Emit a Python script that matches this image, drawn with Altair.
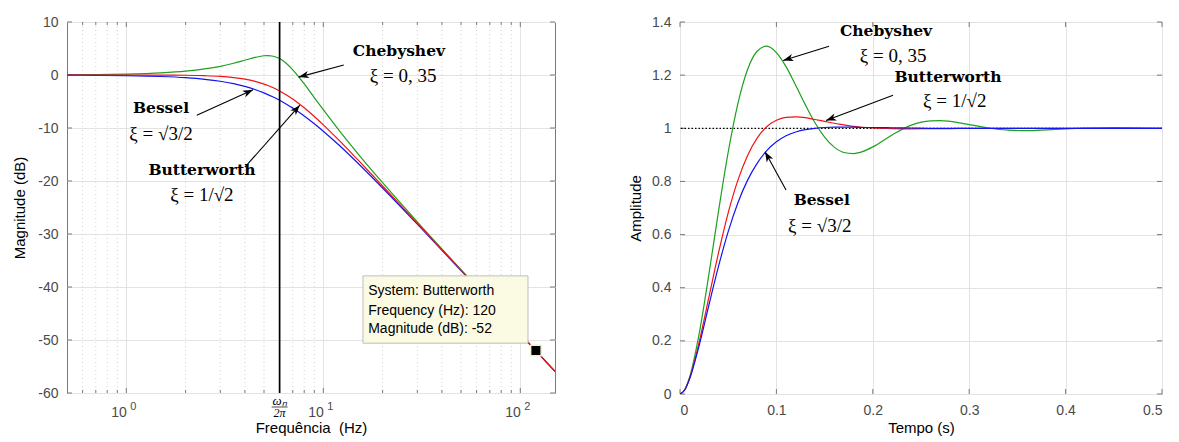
import math
import altair as alt
import pandas as pd

# ---------------- left panel: Bode magnitude ----------------
freq_hz = [0.5, 0.7, 1, 1.5, 2, 2.5, 3, 3.5, 4, 4.5, 5, 5.2, 5.5, 6, 6.5, 7, 7.5, 8, 9, 10,
           12, 15, 20, 30, 50, 80, 120, 150]
mag_cheb = [0.05, 0.09, 0.18, 0.41, 0.73, 1.15, 1.64, 2.21, 2.79, 3.31, 3.63, 3.66, 3.59, 3.10,
            2.18, 0.98, -0.34, -1.69, -4.26, -6.55, -10.40, -14.86, -20.32, -27.70, -36.74,
            -44.96, -52.03, -55.91]
mag_butter = [0.00, 0.00, 0.00, -0.02, -0.05, -0.13, -0.26, -0.48, -0.78, -1.19, -1.71, -1.94,
              -2.32, -3.01, -3.76, -4.55, -5.37, -6.19, -7.83, -9.40, -12.30, -16.03, -20.95,
              -27.97, -36.83, -45.00, -52.04, -55.92]
mag_bessel = [-0.03, -0.06, -0.12, -0.28, -0.51, -0.81, -1.18, -1.63, -2.15, -2.74, -3.38, -3.65,
              -4.06, -4.77, -5.50, -6.25, -6.99, -7.74, -9.20, -10.61, -13.22, -16.66, -21.32,
              -28.14, -36.90, -45.02, -52.05, -55.92]
wn_over_2pi_hz = [6.0]
mag_ticks = [-60, -50, -40, -30, -20, -10, 0, 10]
freq_major = [1, 10, 100]
freq_major_exp = ["0", "1", "2"]
freq_minor = [0.6, 0.7, 0.8, 0.9, 2, 3, 4, 5, 6, 7, 8, 9, 20, 30, 40, 50, 60, 70, 80, 90]

datatip_point_f = [120]
datatip_point_db = [-52]
datatip_lines = ["System: Butterworth", "Frequency (Hz): 120", "Magnitude (dB): -52"]
datatip_box_f = [15.9, 109.4]
datatip_box_db = [-37.9, -50.6]
datatip_text_f = [16.9, 16.9, 16.9]
datatip_text_db = [-40.7, -44.5, -48.0]

left_names = ["Chebyshev", "Bessel", "Butterworth"]
left_name_f = [24.2, 1.5, 2.42]
left_name_db = [4.6, -6.2, -17.9]
left_xi = ["ξ = 0, 35", "ξ = √3/2", "ξ = 1/√2"]
left_xi_f = [25.4, 1.5, 2.42]
left_xi_db = [-0.1, -11.1, -22.6]
left_tail_f = [12.7, 2.28, 4.0]
left_tail_db = [1.9, -7.6, -17.4]
left_head_f = [7.5, 4.4, 7.6]
left_head_db = [-0.4, -2.8, -5.7]

# ---------------- right panel: step response ----------------
time_s = [0, 0.005, 0.01, 0.02, 0.03, 0.04, 0.05, 0.06, 0.07, 0.08, 0.09, 0.10, 0.11, 0.12,
          0.13, 0.14, 0.15, 0.16, 0.17, 0.18, 0.19, 0.20, 0.22, 0.24, 0.26, 0.27, 0.28, 0.30,
          0.32, 0.34, 0.36, 0.38, 0.40, 0.42, 0.45, 0.50]
step_cheb = [0, 0.017, 0.064, 0.229, 0.451, 0.689, 0.910, 1.092, 1.220, 1.290, 1.309, 1.285,
             1.232, 1.162, 1.089, 1.021, 0.967, 0.929, 0.909, 0.905, 0.913, 0.930, 0.975,
             1.012, 1.028, 1.029, 1.026, 1.014, 1.001, 0.993, 0.991, 0.994, 0.998, 1.001,
             1.003, 1.000]
step_butter = [0, 0.016, 0.059, 0.197, 0.365, 0.532, 0.682, 0.804, 0.897, 0.963, 1.006, 1.030,
               1.041, 1.043, 1.040, 1.033, 1.026, 1.019, 1.013, 1.007, 1.004, 1.001, 0.999,
               0.998, 0.999, 0.999, 0.999, 1.000, 1.000, 1.000, 1.000, 1.000, 1.000, 1.000,
               1.000, 1.000]
step_bessel = [0, 0.016, 0.057, 0.184, 0.335, 0.481, 0.611, 0.719, 0.804, 0.868, 0.916, 0.949,
               0.972, 0.986, 0.995, 1.000, 1.003, 1.004, 1.004, 1.004, 1.003, 1.003, 1.002,
               1.001, 1.000, 1.000, 1.000, 1.000, 1.000, 1.000, 1.000, 1.000, 1.000, 1.000,
               1.000, 1.000]
amp_ticks = [0, 0.2, 0.4, 0.6, 0.8, 1.0, 1.2, 1.4]
time_ticks = [0, 0.1, 0.2, 0.3, 0.4, 0.5]
final_value = [1.0]

right_names = ["Chebyshev", "Butterworth", "Bessel"]
right_name_t = [0.2137, 0.278, 0.147]
right_name_a = [1.366, 1.192, 0.730]
right_xi = ["ξ = 0, 35", "ξ = 1/√2", "ξ = √3/2"]
right_xi_t = [0.221, 0.285, 0.145]
right_xi_a = [1.271, 1.101, 0.632]
right_tail_t = [0.1546, 0.221, 0.110]
right_tail_a = [1.309, 1.124, 0.768]
right_head_t = [0.107, 0.1515, 0.0882]
right_head_a = [1.255, 1.029, 0.912]

# ---------------- styles ----------------
W_L, H_L = 488, 371
W_R, H_R = 482, 372
FRAME = "#7a7a7a"
GRID = "#e3e3e3"
MINOR = "#cfcfcf"
GREEN = "#1f9f1f"
RED = "#f01414"
BLUE = "#1414f0"
LABEL = "#4a4a4a"
SANS = "Liberation Sans"
SERIF = "DejaVu Serif"
MATHF = "Liberation Serif"
ARROW = "M0,0L-1,-0.36L-0.72,0L-1,0.36Z"
LOGMIN, LOGMAX = math.log10(0.5), math.log10(150)


def ang(x0, y0, x1, y1):
    return math.degrees(math.atan2(y1 - y0, x1 - x0)) % 360


def pxl(f):
    return W_L * (math.log10(f) - LOGMIN) / (LOGMAX - LOGMIN)


def pyl(d):
    return H_L * (10 - d) / 70


def pxr(t):
    return W_R * t / 0.5


def pyr(a):
    return H_R * (1.4 - a) / 1.4


# ---------------- left chart ----------------
xs_l = alt.Scale(type="log", domain=[0.5, 150], nice=False)
ys_l = alt.Scale(domain=[-60, 10], nice=False, zero=False)
ax_xl = alt.Axis(values=freq_major, labelExpr="'10'", labelAlign="right",
                 title="Frequência\u00a0\u00a0(Hz)", grid=True, labelPadding=12, titlePadding=1)
ax_yl = alt.Axis(values=mag_ticks, labelExpr="datum.value + ''", title="Magnitude (dB)",
                 grid=True, labelPadding=9, titlePadding=10)


def XL(field="f"):
    return alt.X(f"{field}:Q", scale=xs_l, axis=ax_xl)


def YL(field="dB"):
    return alt.Y(f"{field}:Q", scale=ys_l, axis=ax_yl)


df_bode = {name: pd.DataFrame({"f": freq_hz, "dB": vals})
           for name, vals in [("cheb", mag_cheb), ("butter", mag_butter), ("bessel", mag_bessel)]}

minor_grid = alt.Chart(pd.DataFrame({"f": freq_minor})).mark_rule(
    color=MINOR, strokeDash=[1, 3], strokeWidth=1).encode(x=XL())

ytk = pd.DataFrame({"dB": mag_ticks})
ytick_l = alt.Chart(ytk).mark_rule(color=FRAME).encode(y=YL(), x=alt.value(0), x2=alt.value(5))
ytick_r = alt.Chart(ytk).mark_rule(color=FRAME).encode(y=YL(), x=alt.value(W_L - 5), x2=alt.value(W_L))
xmj = pd.DataFrame({"f": freq_major, "e": freq_major_exp})
xmn = pd.DataFrame({"f": freq_minor})
xtick_b = alt.Chart(xmj).mark_rule(color=FRAME).encode(x=XL(), y=alt.value(H_L - 5), y2=alt.value(H_L))
xtick_t = alt.Chart(xmj).mark_rule(color=FRAME).encode(x=XL(), y=alt.value(0), y2=alt.value(5))
xmtick_b = alt.Chart(xmn).mark_rule(color=FRAME).encode(x=XL(), y=alt.value(H_L - 3), y2=alt.value(H_L))
xmtick_t = alt.Chart(xmn).mark_rule(color=FRAME).encode(x=XL(), y=alt.value(0), y2=alt.value(3))
x_exp = alt.Chart(xmj).mark_text(font=SANS, fontSize=11, color=LABEL, dx=7).encode(
    x=XL(), y=alt.value(H_L + 14), text="e:N")

wn_line = alt.Chart(pd.DataFrame({"f": wn_over_2pi_hz})).mark_rule(
    color="black", strokeWidth=1.7).encode(x=XL())


def bode_line(name, color):
    return alt.Chart(df_bode[name]).mark_line(
        interpolate="monotone", color=color, strokeWidth=1.2, clip=True).encode(x=XL(), y=YL())


la = pd.DataFrame({"f": left_tail_f, "dB": left_tail_db, "f2": left_head_f, "dB2": left_head_db})
la["ang"] = [ang(pxl(a), pyl(b), pxl(c), pyl(d)) for a, b, c, d in
             zip(left_tail_f, left_tail_db, left_head_f, left_head_db)]
l_arrow_line = alt.Chart(la).mark_rule(color="black", strokeWidth=1.1).encode(
    x=XL(), y=YL(), x2=alt.X2("f2:Q"), y2=alt.Y2("dB2:Q"))
l_arrow_head = alt.Chart(la).mark_point(shape=ARROW, filled=True, color="black", size=420,
                                        opacity=1).encode(
    x=XL("f2"), y=YL("dB2"), angle=alt.Angle("ang:Q", scale=None))
l_names = alt.Chart(pd.DataFrame({"f": left_name_f, "dB": left_name_db, "t": left_names})).mark_text(
    font=SERIF, fontWeight="bold", fontSize=15.5, color="black").encode(x=XL(), y=YL(), text="t:N")
l_xi = alt.Chart(pd.DataFrame({"f": left_xi_f, "dB": left_xi_db, "t": left_xi})).mark_text(
    font=MATHF, fontSize=19, color="black").encode(x=XL(), y=YL(), text="t:N")

wn_df = pd.DataFrame({"f": wn_over_2pi_hz})
wn_num = alt.Chart(wn_df).mark_text(text="ωₙ", font=MATHF, fontStyle="italic", fontSize=13,
                                    color="black").encode(x=XL(), y=alt.value(H_L + 8))
wn_bar = alt.Chart(wn_df).mark_tick(orient="horizontal", size=16, thickness=1,
                                    color="black").encode(x=XL(), y=alt.value(H_L + 14))
wn_den = alt.Chart(wn_df).mark_text(text="2π", font=MATHF, fontStyle="italic", fontSize=12,
                                    color="black").encode(x=XL(), y=alt.value(H_L + 20))

tip_box = alt.Chart(pd.DataFrame({"f": [datatip_box_f[0]], "f2": [datatip_box_f[1]],
                                  "dB": [datatip_box_db[0]], "dB2": [datatip_box_db[1]]})).mark_rect(
    fill="#fbfbe4", stroke="#bdbdbd", strokeWidth=1).encode(
    x=XL(), x2=alt.X2("f2:Q"), y=YL(), y2=alt.Y2("dB2:Q"))
tip_text = alt.Chart(pd.DataFrame({"f": datatip_text_f, "dB": datatip_text_db, "t": datatip_lines})).mark_text(
    font=SANS, fontSize=14, align="left", color="black").encode(x=XL(), y=YL(), text="t:N")
tip_pt = alt.Chart(pd.DataFrame({"f": datatip_point_f, "dB": datatip_point_db})).mark_square(
    size=110, color="black", opacity=1, stroke="#f3f0c8", strokeWidth=1.5).encode(x=XL(), y=YL())

left = alt.layer(
    minor_grid, xmtick_b, xmtick_t, xtick_b, xtick_t, ytick_l, ytick_r,
    bode_line("cheb", GREEN), bode_line("bessel", BLUE), bode_line("butter", RED),
    wn_line, l_arrow_line, l_arrow_head, l_names, l_xi, x_exp, wn_num, wn_bar, wn_den,
    tip_box, tip_text, tip_pt,
).properties(width=W_L, height=H_L)

# ---------------- right chart ----------------
xs_r = alt.Scale(domain=[0, 0.5], nice=False, zero=False)
ys_r = alt.Scale(domain=[0, 1.4], nice=False, zero=False)
ax_xr = alt.Axis(values=time_ticks, format=".1~f", title="Tempo (s)", grid=True,
                 labelPadding=9, titlePadding=3)
ax_yr = alt.Axis(values=amp_ticks, format=".1~f", title="Amplitude", grid=True,
                 labelPadding=9, titlePadding=8)


def XR(field="t"):
    return alt.X(f"{field}:Q", scale=xs_r, axis=ax_xr)


def YR(field="a"):
    return alt.Y(f"{field}:Q", scale=ys_r, axis=ax_yr)


df_step = {name: pd.DataFrame({"t": time_s, "a": vals})
           for name, vals in [("cheb", step_cheb), ("butter", step_butter), ("bessel", step_bessel)]}

ytk_r = pd.DataFrame({"a": amp_ticks})
xtk_r = pd.DataFrame({"t": time_ticks})
r_ytick_l = alt.Chart(ytk_r).mark_rule(color=FRAME).encode(y=YR(), x=alt.value(0), x2=alt.value(5))
r_ytick_r = alt.Chart(ytk_r).mark_rule(color=FRAME).encode(y=YR(), x=alt.value(W_R - 5), x2=alt.value(W_R))
r_xtick_b = alt.Chart(xtk_r).mark_rule(color=FRAME).encode(x=XR(), y=alt.value(H_R - 5), y2=alt.value(H_R))
r_xtick_t = alt.Chart(xtk_r).mark_rule(color=FRAME).encode(x=XR(), y=alt.value(0), y2=alt.value(5))

final_line = alt.Chart(pd.DataFrame({"a": final_value})).mark_rule(
    color="black", strokeDash=[1.5, 2], strokeWidth=1.2).encode(y=YR())


def step_line(name, color):
    return alt.Chart(df_step[name]).mark_line(
        interpolate="monotone", color=color, strokeWidth=1.2, clip=True).encode(x=XR(), y=YR())


ra = pd.DataFrame({"t": right_tail_t, "a": right_tail_a, "t2": right_head_t, "a2": right_head_a})
ra["ang"] = [ang(pxr(a), pyr(b), pxr(c), pyr(d)) for a, b, c, d in
             zip(right_tail_t, right_tail_a, right_head_t, right_head_a)]
r_arrow_line = alt.Chart(ra).mark_rule(color="black", strokeWidth=1.1).encode(
    x=XR(), y=YR(), x2=alt.X2("t2:Q"), y2=alt.Y2("a2:Q"))
r_arrow_head = alt.Chart(ra).mark_point(shape=ARROW, filled=True, color="black", size=420,
                                        opacity=1).encode(
    x=XR("t2"), y=YR("a2"), angle=alt.Angle("ang:Q", scale=None))
r_names = alt.Chart(pd.DataFrame({"t": right_name_t, "a": right_name_a, "s": right_names})).mark_text(
    font=SERIF, fontWeight="bold", fontSize=15.5, color="black").encode(x=XR(), y=YR(), text="s:N")
r_xi = alt.Chart(pd.DataFrame({"t": right_xi_t, "a": right_xi_a, "s": right_xi})).mark_text(
    font=MATHF, fontSize=19, color="black").encode(x=XR(), y=YR(), text="s:N")

right = alt.layer(
    r_ytick_l, r_ytick_r, r_xtick_b, r_xtick_t, final_line,
    step_line("cheb", GREEN), step_line("butter", RED), step_line("bessel", BLUE),
    r_arrow_line, r_arrow_head, r_names, r_xi,
).properties(width=W_R, height=H_R)

chart = alt.hconcat(left, right, spacing=72).properties(
    padding={"left": 12, "top": 14, "right": 5, "bottom": 2},
    background="white",
).configure_view(
    stroke=FRAME, strokeWidth=1
).configure_axis(
    labelFont=SANS, labelFontSize=14, labelColor=LABEL,
    titleFont=SANS, titleFontSize=15, titleFontWeight="normal", titleColor="black",
    domain=False, ticks=False, gridColor=GRID, gridWidth=1,
)

chart.save("out.html", embed_options={"renderer": "svg", "actions": False})
